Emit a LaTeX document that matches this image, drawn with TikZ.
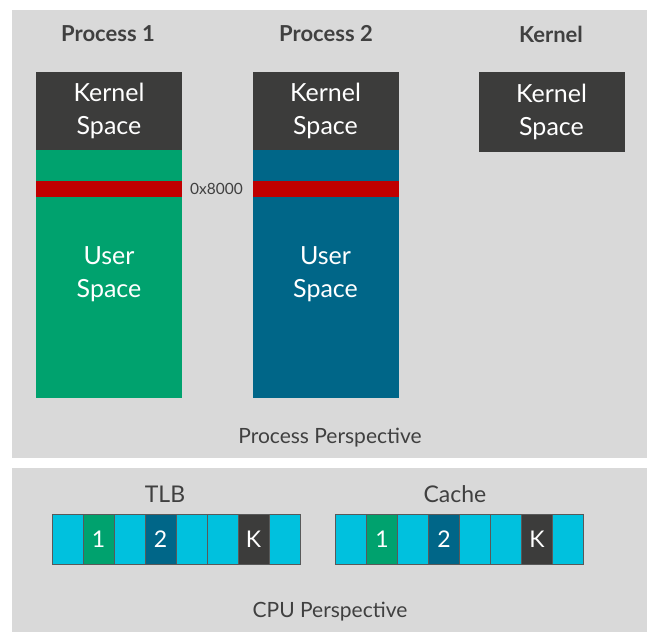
\documentclass[tikz,border=0pt]{standalone}
\usepackage{fontspec}
\setmainfont{Lato}
\usetikzlibrary{positioning}
\definecolor{panelgray}{HTML}{D9D9D9}
\definecolor{kerneldark}{HTML}{3C3C3B}
\definecolor{procgreen}{HTML}{00A26E}
\definecolor{procblue}{HTML}{006688}
\definecolor{bandred}{HTML}{C00000}
\definecolor{cellcyan}{HTML}{00C1DE}
\definecolor{textdark}{HTML}{404040}
\tikzset{
  panel/.style={fill=panelgray, draw=none},
  title/.style={text=textdark, font=\bfseries\fontsize{22}{26}\selectfont},
  caption/.style={text=textdark, font=\fontsize{21}{25}\selectfont},
  spacebox/.style={minimum width=146pt, inner sep=0pt, text=white, align=center,
    font=\fontsize{25}{33}\selectfont},
  band/.style={fill=bandred, minimum width=146pt, minimum height=16pt, inner sep=0pt},
  cell/.style={minimum width=31pt, minimum height=50pt, inner sep=0pt, draw=gray!70!black,
    line width=0.6pt, text=white, font=\fontsize{23}{26}\selectfont},
}
\begin{document}
\begin{tikzpicture}[x=1pt, y=-1pt]
  \useasboundingbox[fill=white] (0,0) rectangle (659,640);
  % panels
  \fill[panel] (12,10) rectangle (647,458);
  \fill[panel] (12,468) rectangle (647,632);

  % column titles
  \node[title] (t1) at (108,34) {Process 1};
  \node[title] (t2) at (326,34) {Process 2};
  \node[title] (tk) at (551,34) {Kernel};

  % process 1
  \node[spacebox, fill=kerneldark, minimum height=78pt] (ks1) at (109,111) {Kernel\\Space};
  \node[spacebox, fill=procgreen, minimum height=248pt, below=0pt of ks1] (us1) {User\\Space};
  \node[band] (b1) at (109,189) {};

  % process 2
  \node[spacebox, fill=kerneldark, minimum height=78pt] (ks2) at (325.5,111) {Kernel\\Space};
  \node[spacebox, fill=procblue, minimum height=248pt, below=0pt of ks2] (us2) {User\\Space};
  \node[band] (b2) at (325.5,189) {};

  % kernel
  \node[spacebox, fill=kerneldark, minimum height=80pt] (ksk) at (551.5,112) {Kernel\\Space};

  \node[text=textdark, font=\fontsize{15.5}{18}\selectfont] (addr) at (216.5,189) {0x8000};
  \node[caption] (pp) at (330,438) {Process Perspective};

  % cpu side
  \node[caption, font=\fontsize{23}{26}\selectfont] (tlb) at (165,494) {TLB};
  \node[caption, font=\fontsize{23}{26}\selectfont] (cache) at (455,494) {Cache};
  \foreach \i/\c/\t in {0/cellcyan/, 1/procgreen/1, 2/cellcyan/, 3/procblue/2,
                        4/cellcyan/, 5/cellcyan/, 6/kerneldark/K, 7/cellcyan/} {
    \node[cell, fill=\c] (tlb\i) at (67.5+31*\i,539.5) {\t};
    \node[cell, fill=\c] (cache\i) at (351+31*\i,539.5) {\t};
  }
  \node[caption] (cpu) at (330,612) {CPU Perspective};
\end{tikzpicture}
\end{document}
